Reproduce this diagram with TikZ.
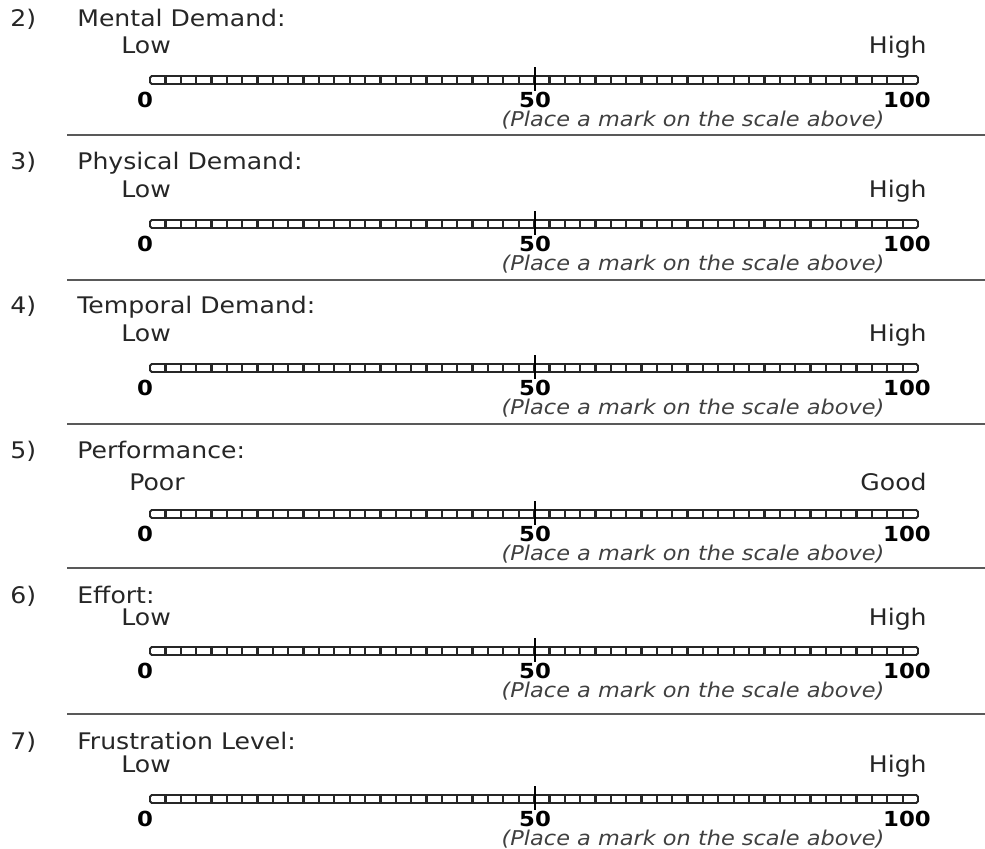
\documentclass[tikz,border=0pt]{standalone}
\usepackage{fontspec}
\setmainfont[FakeStretch=1.1]{DejaVu Sans}

\begin{document}
\begin{tikzpicture}[x=0.02cm,y=-0.02cm,
	qlabel/.style={anchor=base west,inner sep=0pt,text=black!85,font=\fontsize{13}{15}\selectfont},
	endlabel/.style={inner sep=0pt,text=black!85,font=\fontsize{13}{15}\selectfont},
	numlabel/.style={anchor=base,inner sep=0pt,text=black,font=\fontsize{11.8}{13}\selectfont\bfseries},
	hint/.style={anchor=base,inner sep=0pt,text=black!75,font=\fontsize{11.6}{13}\selectfont\itshape},
	scalebar/.style={draw=black!85,line width=1.1pt,rounded corners=1pt},
	cell/.style={draw=black!85,line width=1.3pt},
	midmark/.style={draw=black,line width=1.7pt},
	sepline/.style={draw=black!65,line width=1.1pt}]
	\useasboundingbox (0,0) rectangle (985,849);
	%\draw[help lines] (0,0) grid[step=50] (985,849);
	\foreach \n/\ttl/\lo/\xl/\hi/\yt/\yl/\yb in {
		2/{Mental Demand:}/Low/121/High/26/53/80,
		3/{Physical Demand:}/Low/121/High/169/197/224,
		4/{Temporal Demand:}/Low/121/High/313/341/368,
		5/{Performance:}/Poor/129/Good/458/490/514,
		6/{Effort:}/Low/121/High/603/625/651,
		7/{Frustration Level:}/Low/121/High/749/772/799}{
		\node[qlabel] (num\n) at (10,\yt) {\n)};
		\node[qlabel] (title\n) at (77,\yt) {\ttl};
		\node[endlabel,anchor=base west] (low\n) at (\xl,\yl) {\lo};
		\node[endlabel,anchor=base east] (high\n) at (927,\yl) {\hi};
		\draw[scalebar] (150,\yb-4) rectangle (918,\yb+4);
		\foreach \i in {1,...,49}
			\draw[cell] ({150+\i*15.36},\yb-4) -- ({150+\i*15.36},\yb+4);
		\draw[midmark] (535,\yb-13) -- (535,\yb+11);
		\node[numlabel] (zero\n) at (145,\yb+27) {0};
		\node[numlabel] (half\n) at (535,\yb+27) {50};
		\node[numlabel] (full\n) at (907,\yb+27) {100};
		\node[hint] (hint\n) at (693,\yb+46) {(Place a mark on the scale above)};
	}
	\foreach \ys in {135,280,424,568,714}
		\draw[sepline] (67,\ys) -- (985,\ys);
\end{tikzpicture}
\end{document}
